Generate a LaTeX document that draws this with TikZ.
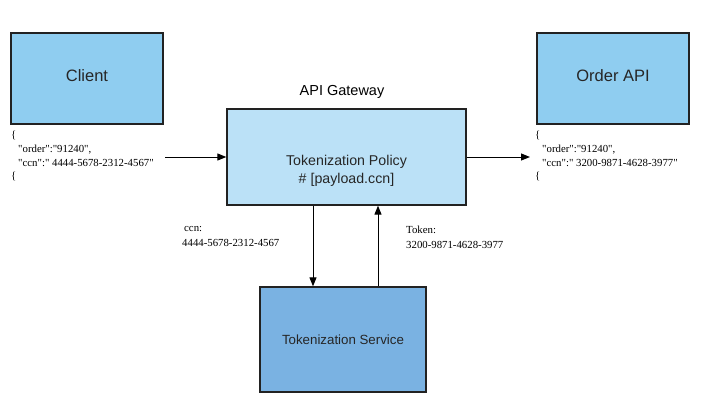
\documentclass[tikz,border=0pt]{standalone}
\usepackage{fontspec}
\setmainfont{Liberation Sans}
\newfontfamily\jsonfont{Liberation Serif}
\usetikzlibrary{arrows.meta}
\definecolor{clientblue}{RGB}{143,205,240}
\definecolor{gwblue}{RGB}{187,225,247}
\definecolor{svcblue}{RGB}{122,178,226}
\definecolor{edgegray}{RGB}{34,34,34}
\begin{document}
\begin{tikzpicture}[x=1pt,y=-1pt,
  box/.style={draw=edgegray,line width=1.3pt,inner sep=0pt,text=black!85},
  conn/.style={draw=black,line width=1pt,-{Triangle[length=9pt,width=7pt]}},
  json/.style={font=\jsonfont\fontsize{10.8}{13.7}\selectfont,align=left,anchor=north west,inner sep=0pt},
  lbl/.style={font=\jsonfont\fontsize{10.8}{15}\selectfont,align=left,anchor=north west,inner sep=0pt}]
\useasboundingbox (0,0) rectangle (724,413);
\node[box,fill=clientblue,minimum width=152pt,minimum height=91pt,text depth=6pt,font=\fontsize{16.5}{18}\selectfont] (client) at (87,78.5) {Client};
\node[box,fill=clientblue,minimum width=152pt,minimum height=91pt,text depth=6pt,font=\fontsize{16.5}{18}\selectfont] (order) at (613,78.5) {Order API};
\node[box,fill=gwblue,minimum width=239pt,minimum height=96pt] (gw) at (346.5,157) {};
\node[font=\fontsize{14.2}{18}\selectfont,align=center,text=black!85] (gwtext) at (346.5,171) {Tokenization Policy\\\# [payload.ccn]};
\node[font=\fontsize{14.5}{16}\selectfont] (gwlabel) at (342,92) {API Gateway};
\node[box,fill=svcblue,minimum width=166pt,minimum height=105pt,font=\fontsize{13.3}{16}\selectfont] (svc) at (343,339.5) {Tokenization Service};
\node[json] (jsonin) at (11,131) {\{\\\hspace*{7pt}"order":"91240",\\\hspace*{7pt}"ccn":" 4444-5678-2312-4567"\\\{};
\node[json] (jsonout) at (535,131) {\{\\\hspace*{7pt}"order":"91240",\\\hspace*{7pt}"ccn":" 3200-9871-4628-3977"\\\{};
\node[lbl] (ccnlbl) at (182,226) {\hspace*{2pt}ccn:\\4444-5678-2312-4567};
\node[lbl] (toklbl) at (406,226) {Token:\\3200-9871-4628-3977};
\coordinate (inStart) at (165,157);
\coordinate (outEnd) at (530,157);
\draw[conn] (inStart) -- (inStart -| gw.west);
\draw[conn] (gw.east |- outEnd) -- (outEnd);
\draw[conn] (gw.south -| 313,0) -- (svc.north -| 313,0);
\draw[conn] (svc.north -| 378,0) -- (gw.south -| 378,0);
\end{tikzpicture}
\end{document}
